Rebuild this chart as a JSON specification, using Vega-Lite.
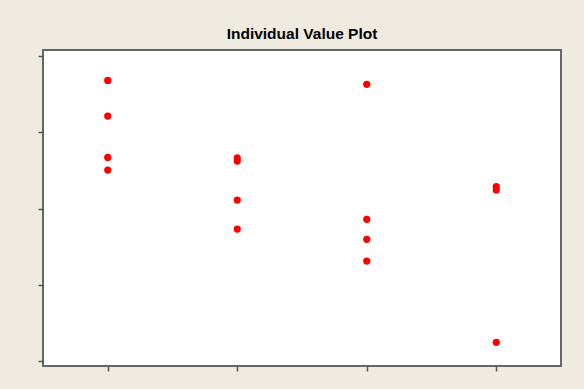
{
  "$schema": "https://vega.github.io/schema/vega-lite/v6.json",
  "width": 518,
  "height": 316,
  "autosize": {"type": "none"},
  "padding": {"left": 43, "top": 50, "right": 23, "bottom": 23},
  "background": "#EFEBE1",
  "title": {
    "text": "Individual Value Plot",
    "font": "Liberation Sans",
    "fontSize": 15.5,
    "fontWeight": "bold",
    "color": "#000000",
    "anchor": "middle",
    "offset": 8
  },
  "config": {
    "view": {"fill": "#FFFFFF", "stroke": "#666666", "strokeWidth": 2}
  },
  "data": {
    "values": [
      {"group": "A", "value": 3.681},
      {"group": "A", "value": 3.213},
      {"group": "A", "value": 2.671},
      {"group": "A", "value": 2.505},
      {"group": "B", "value": 2.666},
      {"group": "B", "value": 2.623},
      {"group": "B", "value": 2.111},
      {"group": "B", "value": 1.731},
      {"group": "C", "value": 3.629},
      {"group": "C", "value": 1.858},
      {"group": "C", "value": 1.596},
      {"group": "C", "value": 1.311},
      {"group": "D", "value": 2.289},
      {"group": "D", "value": 2.243},
      {"group": "D", "value": 0.245}
    ]
  },
  "mark": {"type": "circle", "color": "#FF0000", "opacity": 1, "size": 52},
  "encoding": {
    "x": {
      "field": "group",
      "type": "nominal",
      "scale": {"type": "point", "padding": 0.5},
      "axis": {"title": null, "labels": false, "domain": false, "ticks": true, "tickSize": 5, "tickWidth": 1.5, "tickColor": "#555555", "grid": false}
    },
    "y": {
      "field": "value",
      "type": "quantitative",
      "scale": {"domain": [-0.066, 4.08], "nice": false, "zero": false},
      "axis": {"title": null, "labels": false, "domain": false, "ticks": true, "tickSize": 5, "tickWidth": 1.5, "tickColor": "#555555", "grid": false, "values": [0, 1, 2, 3, 4]}
    }
  }
}
